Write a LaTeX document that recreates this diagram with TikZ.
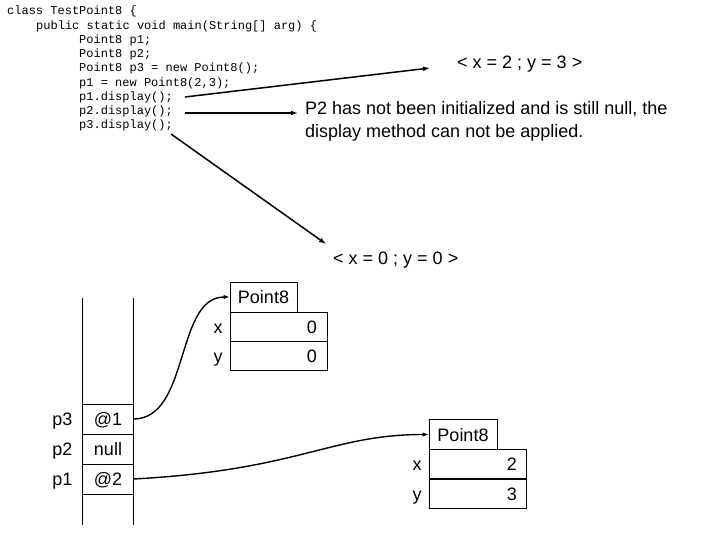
\documentclass[tikz,border=0pt]{standalone}
\usepackage{fontspec}
\setmainfont{Liberation Sans}
\setmonofont{Liberation Mono}
\usetikzlibrary{arrows.meta}
\begin{document}
\begin{tikzpicture}[x=1pt,y=-1pt,
  code/.style={anchor=base west, inner sep=0pt, font=\ttfamily\fontsize{12}{14}\selectfont},
  lbl/.style={inner sep=0pt, font=\fontsize{18}{22}\selectfont},
  arr/.style={line width=1.5pt, -{Latex[length=7pt,width=5pt]}},
  ref/.style={line width=1.4pt, -{Latex[length=6pt,width=4.5pt]}},
  cell/.style={draw, line width=0.8pt, minimum width=51pt, minimum height=30pt, inner sep=0pt},
  hdr/.style={draw, line width=0.8pt, minimum width=67pt, minimum height=30pt, inner sep=0pt},
  fld/.style={draw, line width=0.8pt, minimum width=97pt, minimum height=29pt, inner sep=0pt}]
\useasboundingbox (0,0) rectangle (720,540);

% code
\node[code] (c1) at (7,15) {class TestPoint8 \{};
\node[code] (c2) at (36,29.3) {public static void main(String[] arg) \{};
\node[code] (c3) at (79,43.5) {Point8 p1;};
\node[code] (c4) at (79,57.8) {Point8 p2;};
\node[code] (c5) at (79,72) {Point8 p3 = new Point8();};
\node[code] (c6) at (79,86.3) {p1 = new Point8(2,3);};
\node[code] (c7) at (79,100.5) {p1.display();};
\node[code] (c8) at (79,114.8) {p2.display();};
\node[code] (c9) at (79,129) {p3.display();};

% results
\node[lbl, anchor=base west] (r1) at (457,68.5) {< x = 2 ; y = 3 >};
\node[lbl, anchor=base west] (r2a) at (305,115) {P2 has not been initialized and is still null, the};
\node[lbl, anchor=base west] (r2b) at (305,138) {display method can not be applied.};
\node[lbl, anchor=base west] (r3) at (333,264.5) {< x = 0 ; y = 0 >};

\coordinate (a1s) at (185,97);
\coordinate (a1e) at (430,68);
\coordinate (a2s) at (185,113);
\coordinate (a2e) at (298,113);
\coordinate (a3s) at (171,134);
\coordinate (a3e) at (326,244);
\draw[arr] (a1s) -- (a1e);
\draw[arr] (a2s) -- (a2e);
\draw[arr] (a3s) -- (a3e);

% stack
\coordinate (stl) at (82,298);
\coordinate (sbl) at (82,525);
\coordinate (str) at (133,298);
\coordinate (sbr) at (133,525);
\draw[line width=0.8pt] (stl) -- (sbl);
\draw[line width=0.8pt] (str) -- (sbr);
\node[cell] (s3) at (107.5,419) {};
\node[cell] (s2) at (107.5,449) {};
\node[cell] (s1) at (107.5,479) {};
\draw[line width=1.6pt] (s2.south west) -- (s2.south east);
\node[lbl, anchor=base] (t3) at (108,425.5) {@1};
\node[lbl, anchor=base] (t2) at (108,455.5) {null};
\node[lbl, anchor=base] (t1) at (108,485.5) {@2};
\node[lbl, anchor=base] (n3) at (62.5,425.5) {p3};
\node[lbl, anchor=base] (n2) at (62.5,455.5) {p2};
\node[lbl, anchor=base] (n1) at (62.5,485.5) {p1};

% object 1
\node[hdr] (h1) at (263.5,297) {};
\node[lbl, anchor=base] (h1t) at (263.5,303.5) {Point8};
\node[fld] (f1x) at (278.5,326.5) {};
\node[fld] (f1y) at (278.5,355.5) {};
\node[lbl, anchor=base] (l1x) at (218,333) {x};
\node[lbl, anchor=base] (l1y) at (218,362) {y};
\node[lbl, anchor=base east] (v1x) at (317,333) {0};
\node[lbl, anchor=base east] (v1y) at (317,362) {0};

% object 2
\node[hdr, minimum width=68pt] (h2) at (463,434.5) {};
\node[lbl, anchor=base] (h2t) at (463,441) {Point8};
\node[fld] (f2x) at (477.5,464) {};
\node[fld] (f2y) at (477.5,494) {};
\node[lbl, anchor=base] (l2x) at (417,470.5) {x};
\node[lbl, anchor=base] (l2y) at (417,500.5) {y};
\node[lbl, anchor=base east] (v2x) at (517,470.5) {2};
\node[lbl, anchor=base east] (v2y) at (517,500.5) {3};

% references
\draw[ref] (s3.east) .. controls (190,419) and (175,297) .. (h1.west);
\draw[ref] (s1.east) .. controls (300,470) and (330,434.5) .. (h2.west);
\end{tikzpicture}
\end{document}
